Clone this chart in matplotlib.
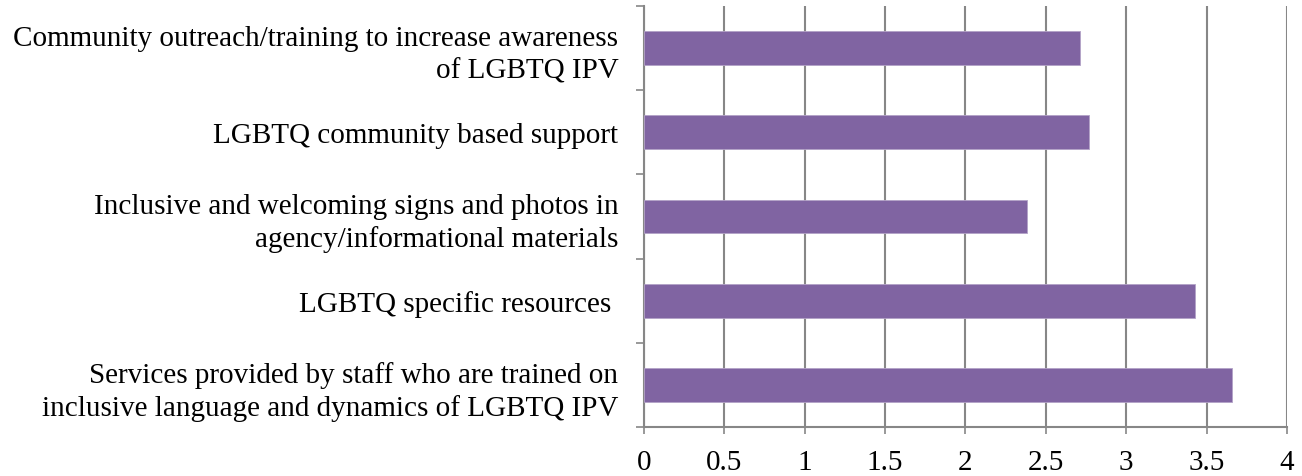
import matplotlib.pyplot as plt

plt.rcParams['font.family'] = ['Liberation Serif', 'DejaVu Serif']

categories = [
    "Services provided by staff who are trained on\ninclusive language and dynamics of LGBTQ IPV",
    "LGBTQ specific resources ",
    "Inclusive and welcoming signs and photos in\nagency/informational materials",
    "LGBTQ community based support",
    "Community outreach/training to increase awareness\nof LGBTQ IPV",
]
values = [3.66, 3.43, 2.38, 2.77, 2.71]
x_ticks = [0, 0.5, 1, 1.5, 2, 2.5, 3, 3.5, 4]

fig, ax = plt.subplots(figsize=(13.02, 4.77), dpi=100)
fig.subplots_adjust(left=0.4946, right=0.9885, top=0.9853, bottom=0.1027)

pos = list(range(len(categories)))
ax.barh(pos, values, height=0.4, color='#8064A2', edgecolor='#B3A2C7', linewidth=0.6, zorder=3)

ax.set_xlim(0, 4)
ax.set_ylim(-0.5, len(categories) - 0.5)
ax.set_xticks(x_ticks)
ax.set_xticklabels([f"{t:g}" for t in x_ticks], fontsize=21)
ax.set_yticks(pos)
ax.set_yticklabels(categories, fontsize=21, linespacing=1.3)
ax.tick_params(axis='y', length=0, pad=18.5)
ax.set_yticks([p - 0.5 for p in pos] + [len(categories) - 0.5], minor=True)
ax.tick_params(axis='y', which='minor', length=5.5, width=1.2, color='#878787')
ax.tick_params(axis='x', length=5, width=1.2, color='#878787', pad=11)

ax.grid(axis='x', color='#878787', linewidth=1.5, zorder=0)
for side in ['top', 'right']:
    ax.spines[side].set_visible(False)
for side in ['left', 'bottom']:
    ax.spines[side].set_color('#878787')
    ax.spines[side].set_linewidth(1.5)

plt.savefig('out.png', dpi=100)
